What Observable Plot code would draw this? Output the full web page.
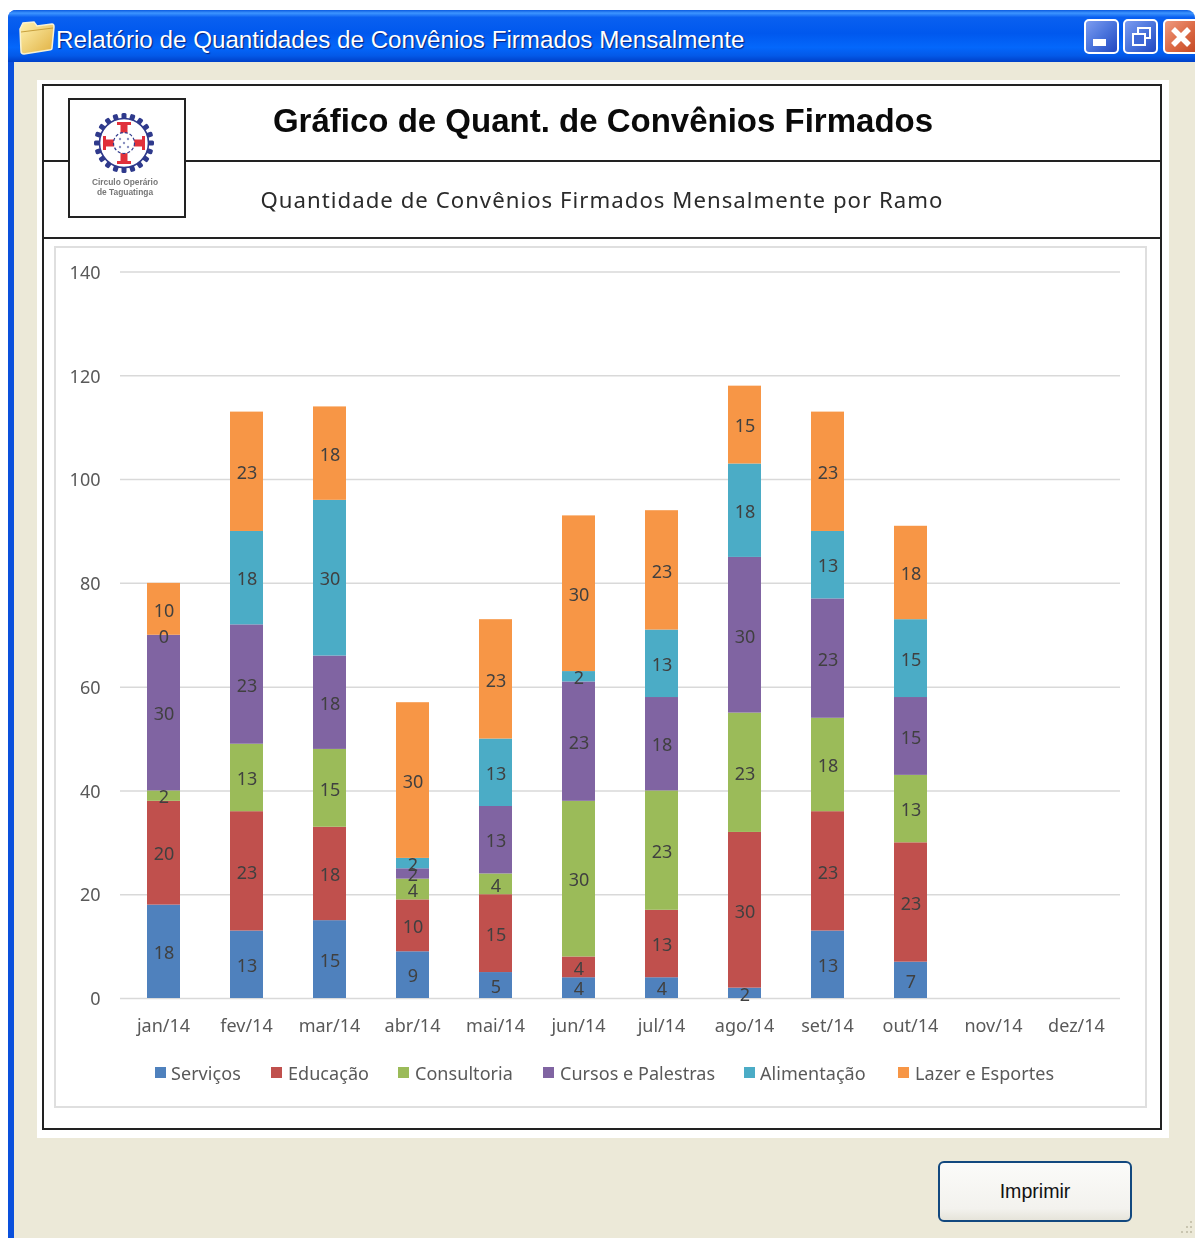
<!DOCTYPE html>
<html lang="pt">
<head>
<meta charset="utf-8">
<title>Relatório de Quantidades de Convênios Firmados Mensalmente</title>
<script src="https://cdn.jsdelivr.net/npm/d3@7"></script>
<script src="https://cdn.jsdelivr.net/npm/@observablehq/plot@0.6"></script>
<style>
html,body{margin:0;padding:0;background:#fff;}
#page{position:relative;width:1195px;height:1238px;overflow:hidden;background:#fff;}
#page div{position:absolute;box-sizing:border-box;}
#win{left:8px;top:10px;width:1187px;height:1228px;background:#ece9d8;border-left:6px solid #0a50dc;border-radius:8px 8px 0 0;}
#bar{left:8px;top:10px;width:1187px;height:52px;border-radius:8px 8px 0 0;
 background:linear-gradient(180deg,#0a5ae0 0%,#3d95ff 6%,#0a60f0 14%,#0058ee 45%,#0467fb 72%,#0359e8 88%,#0040c8 100%);}
#wtitle{left:56px;top:23px;font:24.2px "Liberation Sans",Arial,sans-serif;color:#fff;text-shadow:1px 1px 1px #0a1f78;white-space:nowrap;line-height:34px;}
.wbtn{top:19px;width:35px;height:35px;border:2px solid #fff;border-radius:5px;background:linear-gradient(135deg,#7d9cf0 0%,#4a74dc 50%,#2348c0 100%);}
#paper{left:37px;top:80px;width:1132px;height:1058px;background:#fff;}
#frame{left:42px;top:84px;width:1120px;height:1046px;border:2px solid #222;}
#l1{left:42px;top:160px;width:1120px;height:2px;background:#222;}
#l2{left:42px;top:237px;width:1120px;height:2px;background:#222;}
#logo{left:68px;top:98px;width:118px;height:120px;border:2px solid #222;background:#fff;}
#h1{left:42px;width:1120px;top:101px;padding-left:2px;text-align:center;font:bold 33px "Liberation Sans",Arial,sans-serif;color:#0a0a0a;line-height:40px;white-space:nowrap;filter:blur(.3px);}
#h2{left:42px;width:1120px;top:185px;text-align:center;font:22.2px "Noto Sans","DejaVu Sans",sans-serif;letter-spacing:1.02px;color:#2b2b2b;line-height:30px;white-space:nowrap;filter:blur(.3px);}
#chartbox{left:54px;top:246px;width:1093px;height:862px;border:2px solid #dfdfdf;}
#chart{left:54px;top:246px;width:1093px;height:861px;filter:blur(.35px);}
#chart svg{display:block;}
#chart svg g[aria-label="x-axis tick label"]{letter-spacing:.4px;}
.sw{width:11px;height:11px;top:1067px;}
.lg{top:1060px;font:18px "Noto Sans","DejaVu Sans",sans-serif;letter-spacing:.05px;color:#595959;line-height:26px;white-space:nowrap;filter:blur(.3px);}
#btn{left:938px;top:1161px;width:194px;height:61px;border:2px solid #12487e;border-radius:6px;
 background:linear-gradient(180deg,#fbfbf9 0%,#f3f2ee 80%,#e6e4da 100%);text-align:center;font:19.6px "Liberation Sans",Arial,sans-serif;color:#111;line-height:57px;}
</style>
</head>
<body>
<div id="page">
  <div id="win"></div>
  <div id="bar"></div>
  <svg style="position:absolute;left:18px;top:20px" width="38" height="36" viewBox="0 0 38 36">
    <defs><linearGradient id="fg" x1="0" y1="0" x2="1" y2="1"><stop offset="0" stop-color="#fff2b0"/><stop offset="1" stop-color="#e0b040"/></linearGradient></defs>
    <path d="M2 9 L5 3 L16 2 L19 6 L34 4 Q36 4 36 7 L34 28 Q34 30 31 30 L6 34 Q3 34 3 31 Z" fill="url(#fg)" stroke="#f7f1d2" stroke-width="1.5"/>
    <path d="M3 12 L35 8" stroke="#c8a03c" stroke-width="1" fill="none"/>
  </svg>
  <div id="wtitle">Relatório de Quantidades de Convênios Firmados Mensalmente</div>
  <div class="wbtn" style="left:1084px"></div>
  <div style="left:1093px;top:39px;width:13px;height:7px;background:#fff"></div>
  <div class="wbtn" style="left:1123px"></div>
  <div style="left:1137px;top:27px;width:14px;height:12px;border:2px solid #fff"></div>
  <div style="left:1132px;top:33px;width:14px;height:13px;border:2px solid #fff;background:#3f68d6"></div>
  <div class="wbtn" style="left:1163px;width:40px;background:linear-gradient(135deg,#ee9a80 0%,#dc6a45 50%,#c0431e 100%)"></div>
  <svg style="position:absolute;left:1170px;top:26px" width="22" height="22"><path d="M3 3 L19 19 M19 3 L3 19" stroke="#fff" stroke-width="5.5"/></svg>
  <div id="paper"></div>
  <div id="frame"></div>
  <div id="l1"></div>
  <div id="l2"></div>
  <div id="logo">
    <svg id="logosvg" width="114" height="116" viewBox="0 0 114 116" style="filter:blur(.6px)"></svg>
  </div>
  <div id="h1">Gráfico de Quant. de Convênios Firmados</div>
  <div id="h2">Quantidade de Convênios Firmados Mensalmente por Ramo</div>
  <div id="chartbox"></div>
  <div id="chart"></div>
  <div id="btn">Imprimir</div>
  <svg style="position:absolute;left:1176px;top:1218px" width="19" height="20" fill="#c9c5b0">
    <rect x="14" y="3" width="2" height="2"/><rect x="10" y="8" width="2" height="2"/><rect x="14" y="8" width="2" height="2"/>
    <rect x="5" y="13" width="2" height="2"/><rect x="10" y="13" width="2" height="2"/><rect x="14" y="13" width="2" height="2"/>
  </svg>
</div>
<script>
const meses = ["jan/14","fev/14","mar/14","abr/14","mai/14","jun/14","jul/14","ago/14","set/14","out/14","nov/14","dez/14"];
const ramos = ["Serviços","Educação","Consultoria","Cursos e Palestras","Alimentação","Lazer e Esportes"];
const cores = ["#4f81bd","#c0504d","#9bbb59","#8064a2","#4bacc6","#f79646"];
const servicos    = [18,13,15, 9, 5, 4, 4, 2,13, 7];
const educacao    = [20,23,18,10,15, 4,13,30,23,23];
const consultoria = [ 2,13,15, 4, 4,30,23,23,18,13];
const cursos      = [30,23,18, 2,13,23,18,30,23,15];
const alimentacao = [ 0,18,30, 2,13, 2,13,18,13,15];
const lazer       = [10,23,18,30,23,30,23,15,23,18];
const yTicks = [0,20,40,60,80,100,120,140];
const legendSwatchX = [155,271,398,543,744,898];
const legendTextX = [171,288,415,560,760,915];

const series = [servicos,educacao,consultoria,cursos,alimentacao,lazer];
const rows = [];
series.forEach((vals,i)=>vals.forEach((v,j)=>rows.push({mes:meses[j],ramo:ramos[i],v})));

const stackOpts = {x:"mes",y:"v",z:"ramo",order:null};
const plot = Plot.plot({
  width:1093,height:861,
  marginLeft:66,marginRight:27,marginTop:25.5,marginBottom:109,
  style:{background:"transparent",fontFamily:'"Noto Sans","DejaVu Sans",sans-serif'},
  x:{domain:meses,paddingInner:0.6,paddingOuter:0.3,align:0.5,label:null},
  y:{domain:[0,140],label:null},
  color:{domain:ramos,range:cores},
  marks:[
    Plot.ruleY(yTicks,{stroke:"#d9d9d9",strokeWidth:1.5}),
    Plot.axisY({ticks:yTicks,tickSize:0,tickPadding:20,label:null,fontSize:18,dy:1,fill:"#595959",stroke:"none"}),
    Plot.axisX({tickSize:0,tickPadding:21,dx:-0.5,label:null,fontSize:18,fill:"#595959",stroke:"none",ariaLabel:"x-axis tick label"}),
    Plot.barY(rows,Plot.stackY({...stackOpts,fill:"ramo"})),
    Plot.text(rows,Plot.stackY({...stackOpts,text:"v",fontSize:18,dy:1.5,fill:"#404040"}))
  ]
});
document.getElementById("chart").appendChild(plot);

const page = document.getElementById("page");
ramos.forEach((r,i)=>{
  const s=document.createElement("div");s.className="sw";s.style.left=legendSwatchX[i]+"px";s.style.background=cores[i];page.appendChild(s);
  const t=document.createElement("div");t.className="lg";t.style.left=legendTextX[i]+"px";t.textContent=r;page.appendChild(t);
});

// logotipo
const ns="http://www.w3.org/2000/svg", L=document.getElementById("logosvg");
function add(tag,attrs,txt){const e=document.createElementNS(ns,tag);for(const k in attrs)e.setAttribute(k,attrs[k]);if(txt)e.textContent=txt;L.appendChild(e);}
const cx=54,cy=43;
for(let a=0;a<20;a++){const t=a/20*360;add("rect",{x:cx-2.5,y:cy-30,width:5,height:6,rx:1.5,fill:"#2f3a8c",transform:`rotate(${t} ${cx} ${cy})`});}
add("circle",{cx,cy,r:24.5,fill:"none",stroke:"#2f3a8c","stroke-width":1.6});
const arm=`M-3.5 -9 L-3.5 -18 L-7 -18 L-7 -21 L7 -21 L7 -18 L3.5 -18 L3.5 -9 Z`;
[0,90,180,270].forEach(r=>add("path",{d:arm,fill:"#e0303a",transform:`translate(${cx} ${cy}) rotate(${r})`}));
add("circle",{cx,cy,r:10.5,fill:"#fff",stroke:"#2f3a8c","stroke-width":1.2,"stroke-dasharray":"3 2"});
[[-4,-4],[4,-4],[0,0],[-4,4],[4,4]].forEach(([dx,dy])=>add("circle",{cx:cx+dx,cy:cy+dy,r:1.2,fill:"#8a90c0"}));
add("text",{x:55,y:85,"text-anchor":"middle","font-size":8.4,"font-weight":"bold","font-family":"Liberation Sans",fill:"#777"},"Circulo Operário");
add("text",{x:55,y:95,"text-anchor":"middle","font-size":8.4,"font-weight":"bold","font-family":"Liberation Sans",fill:"#777"},"de Taguatinga");
</script>
</body>
</html>
